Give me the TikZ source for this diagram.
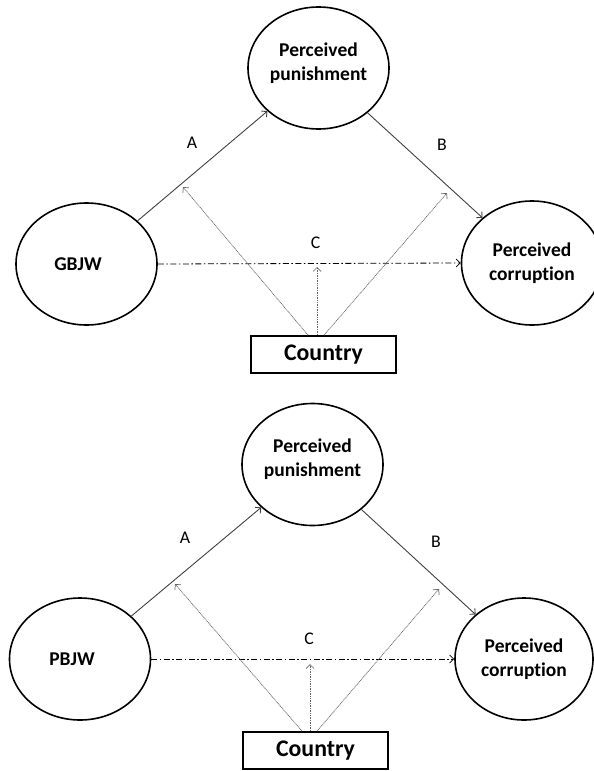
\documentclass[tikz,border=0pt]{standalone}
\usepackage{fontspec}
\setmainfont[Ligatures=NoCommon]{Carlito}
\usetikzlibrary{arrows.meta,shapes.geometric}
\begin{document}
\begin{tikzpicture}[x=1pt,y=-1pt,
  var/.style={ellipse,draw=black,line width=1.6pt,font=\bfseries\fontsize{19.5}{24.5}\selectfont,align=center,inner sep=0pt,minimum width=141pt,minimum height=122pt},
  ctry/.style={rectangle,draw=black,line width=1.7pt,minimum width=145pt,minimum height=37pt,font=\bfseries\fontsize{23.8}{27}\selectfont,inner sep=0pt},
  lbl/.style={font=\fontsize{17.8}{20}\selectfont,inner sep=0pt},
  tipped/.style={-{Straight Barb[length=4pt,width=8pt]}},
  mainarrow/.style={tipped,draw=black!75,line width=0.9pt},
  direct/.style={tipped,draw=black,line width=0.8pt,dash pattern=on 6pt off 2.5pt on 1.5pt off 2.5pt},
  modarrow/.style={tipped,draw=black!60,line width=0.7pt,dash pattern=on 1pt off 0.7pt}
]
\useasboundingbox (0,0) rectangle (594,771);
\clip (0,0) rectangle (594,771);
% ---------- top diagram ----------
\node[var,text depth=13pt] (p1) at (318.5,68) {Perceived\\punishment};
\node[var] (g1) at (86.5,264) {GBJW\hspace*{17pt}};
\node[var,minimum height=124pt] (c1) at (532,263) {Perceived\\corruption};
\node[ctry] (b1) at (323.5,354.5) {Country};
\node[lbl] (la1) at (192,143) {A};
\node[lbl] (lb1) at (442,145) {B};
\node[lbl] (lc1) at (315.5,243) {C};
\coordinate (s1a) at ([xshift=-15.5pt]b1.north);
\coordinate (s1c) at ([xshift=-6.5pt]b1.north);
\coordinate (s1b) at ([xshift=0.5pt]b1.north);
\coordinate (t1a) at (183,187);
\coordinate (t1b) at (447,193);
\coordinate (t1c) at (317,267);
\draw[mainarrow] (g1) -- (p1);
\draw[mainarrow] (p1) -- (c1);
\draw[direct] (g1.east) -- (c1.west);
\draw[modarrow] (s1a) -- (t1a);
\draw[modarrow] (s1c) -- (t1c);
\draw[modarrow] (s1b) -- (t1b);
% ---------- bottom diagram ----------
\node[var,text depth=14pt] (p2) at (312.5,464.5) {Perceived\\punishment};
\node[var] (g2) at (80,659) {PBJW\hspace*{16pt}};
\node[var,minimum width=138pt] (c2) at (524,659) {Perceived\\corruption};
\node[ctry] (b2) at (315.5,750.5) {Country};
\node[lbl] (la2) at (185,538) {A};
\node[lbl] (lb2) at (436,542) {B};
\node[lbl] (lc2) at (309,639) {C};
\coordinate (s2a) at ([xshift=-13.5pt]b2.north);
\coordinate (s2c) at ([xshift=-5.5pt]b2.north);
\coordinate (s2b) at ([xshift=1.5pt]b2.north);
\coordinate (t2a) at (175,584);
\coordinate (t2b) at (439,589);
\coordinate (t2c) at (310,664);
\draw[mainarrow] (g2) -- (p2);
\draw[mainarrow] (p2) -- (c2);
\draw[direct] (g2.east) -- (c2.west);
\draw[modarrow] (s2a) -- (t2a);
\draw[modarrow] (s2c) -- (t2c);
\draw[modarrow] (s2b) -- (t2b);
\end{tikzpicture}
\end{document}
